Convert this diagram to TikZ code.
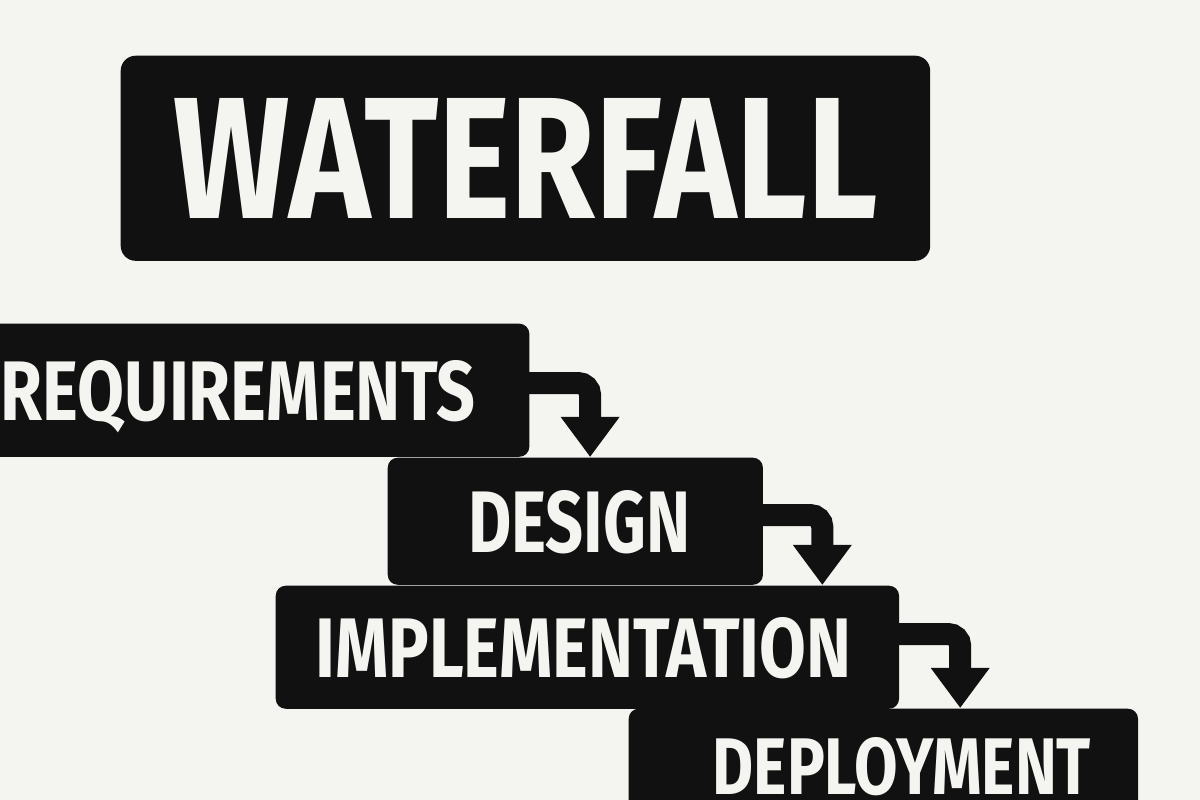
\documentclass[tikz,border=0pt]{standalone}
\usepackage{fontspec}
\setmainfont{Fira Sans}
\usepackage{graphicx}
\usetikzlibrary{positioning}
\usetikzlibrary {arrows.meta}
\definecolor{paper}{HTML}{F4F4F0}
\definecolor{ink}{HTML}{111111}
\tikzset{titlebox/.style={rectangle,draw=none,fill=ink,rounded corners=0.15cm,
inner sep=0pt,text=paper,text depth=0pt,font=\bfseries}}
\tikzset{phase/.style={rectangle,draw=none,fill=ink,rounded corners=0.1cm,
inner sep=0pt,text=paper,text depth=0pt,font=\bfseries}}
\tikzset{flowarrow/.style={draw=ink,line width=0.22cm,rounded corners=0.12cm,
-{Triangle[length=0.4cm,width=0.56cm]}}}

\begin{document}
\begin{tikzpicture}[x=0.01cm,y=-0.01cm]

        \fill[paper] (0,0) rectangle (1200,800);
        \useasboundingbox (0,0) rectangle (1200,800);
        \clip (0,0) rectangle (1200,800);

        \node[titlebox, minimum width=8.09cm, minimum height=2.05cm, anchor=north west] (boxTitle) at (120,55)
            {\resizebox{7.04cm}{1.2cm}{WATERFALL}};

        \node[phase, minimum width=5.6cm, minimum height=1.33cm, anchor=north east] (boxReq) at (530,323)
            {\resizebox{4.74cm}{0.6cm}{REQUIREMENTS}\kern0.22cm};
        \node[phase, minimum width=3.75cm, minimum height=1.27cm, anchor=north west] (boxDes) at (387,457)
            {\kern0.08cm\resizebox{2.22cm}{0.62cm}{DESIGN}};
        \node[phase, minimum width=6.23cm, minimum height=1.23cm, anchor=north west] (boxImp) at (275,585)
            {\resizebox{5.36cm}{0.6cm}{IMPLEMENTATION}\kern0.08cm};
        \node[phase, minimum width=5.09cm, minimum height=1.15cm, anchor=north west] (boxDep) at (628,708)
            {\kern0.37cm\resizebox{3.78cm}{0.57cm}{DEPLOYMENT}};

        \draw[flowarrow] ([xshift=-0.05cm,yshift=-0.6cm]boxReq.north east) -| ([xshift=2.03cm]boxDes.north west);
        \draw[flowarrow] ([xshift=-0.05cm,yshift=-0.58cm]boxDes.north east) -| ([xshift=5.47cm]boxImp.north west);
        \draw[flowarrow] ([xshift=-0.05cm,yshift=-0.49cm]boxImp.north east) -| ([xshift=3.32cm]boxDep.north west);

    \end{tikzpicture}
\end{document}
